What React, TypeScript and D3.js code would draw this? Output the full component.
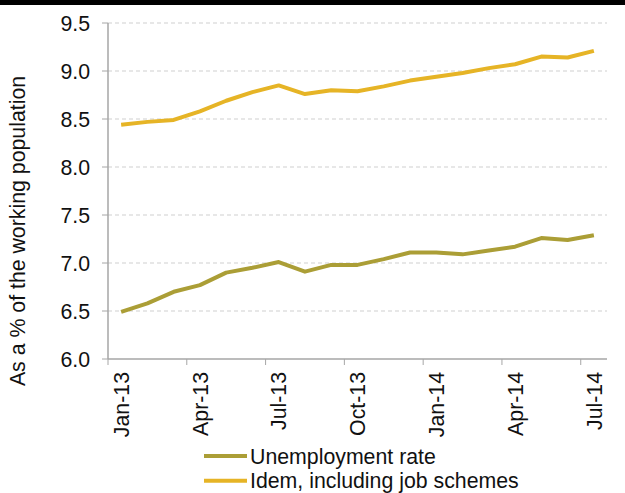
import React from "react";
import * as d3 from "d3";

const months = [
  "Jan-13", "Feb-13", "Mar-13", "Apr-13", "May-13", "Jun-13", "Jul-13", "Aug-13", "Sep-13", "Oct-13",
  "Nov-13", "Dec-13", "Jan-14", "Feb-14", "Mar-14", "Apr-14", "May-14", "Jun-14", "Jul-14",
];
const unemployment = [6.49, 6.58, 6.7, 6.77, 6.9, 6.95, 7.01, 6.91, 6.98, 6.98, 7.04, 7.11, 7.11, 7.09, 7.13, 7.17, 7.26, 7.24, 7.29];
const withSchemes = [8.44, 8.47, 8.49, 8.58, 8.69, 8.78, 8.85, 8.76, 8.8, 8.79, 8.84, 8.9, 8.94, 8.98, 9.03, 9.07, 9.15, 9.14, 9.21];
const yTicks = [6.0, 6.5, 7.0, 7.5, 8.0, 8.5, 9.0, 9.5];
const seriesNames = ["Unemployment rate", "Idem, including job schemes"];
const colors = ["#ab9e36", "#e6b426"];
const labelEvery = 3;

export default function App() {
  const W = 625, H = 493;
  const left = 108, right = 607, top = 23, bottom = 359;
  const fs = 21.3;
  const font = "Arial, 'Liberation Sans', sans-serif";
  const x = d3.scaleBand<string>().domain(months).range([left, right]).paddingInner(0).paddingOuter(0);
  const y = d3.scaleLinear().domain([6, 9.5]).range([bottom, top]);
  const cx = (m: string) => (x(m) as number) + x.bandwidth() / 2;
  const line = d3.line<number>().x((_, i) => cx(months[i])).y((v) => y(v));
  const series = [unemployment, withSchemes];
  const tickMonths = months.filter((_, i) => i % labelEvery === 0);

  return (
    <svg width={W} height={H} style={{ position: "absolute", left: 0, top: 0, background: "#fff" }} fontFamily={font}>
      <rect x={0} y={0} width={W} height={5} fill="#000" />
      {yTicks.map((t) => (
        <g key={t}>
          {t > 6 && (
            <line x1={left} x2={right} y1={y(t)} y2={y(t)} stroke="#cfcfcf" strokeWidth={1} strokeDasharray="4,3" />
          )}
          <line x1={left - 6} x2={left} y1={y(t)} y2={y(t)} stroke="#a6a6a6" strokeWidth={1} />
          <text x={left - 18} y={y(t)} dy="0.36em" textAnchor="end" fontSize={fs} fill="#111">
            {t.toFixed(1)}
          </text>
        </g>
      ))}
      <line x1={left} x2={left} y1={y(9.5)} y2={bottom} stroke="#a6a6a6" strokeWidth={1.5} />
      <line x1={left} x2={right} y1={bottom} y2={bottom} stroke="#a6a6a6" strokeWidth={1.5} />
      {tickMonths.map((m) => (
        <line key={m} x1={x(m) as number} x2={x(m) as number} y1={bottom} y2={bottom + 6} stroke="#a6a6a6" strokeWidth={1} />
      ))}
      {tickMonths.map((m) => (
        <text
          key={"l" + m}
          transform={`translate(${cx(m)},${bottom + 13}) rotate(-90)`}
          textAnchor="end"
          dy="0.36em"
          fontSize={fs}
          fill="#111"
        >
          {m}
        </text>
      ))}
      {series.map((s, i) => (
        <path key={i} d={line(s) || ""} fill="none" stroke={colors[i]} strokeWidth={4} strokeLinejoin="round" />
      ))}
      <text transform={`translate(25,231) rotate(-90)`} textAnchor="middle" fontSize={fs} fill="#111">
        As a % of the working population
      </text>
      {seriesNames.map((n, i) => (
        <g key={n} transform={`translate(204,${456 + i * 24.7})`}>
          <line x1={0} x2={43} y1={0} y2={0} stroke={colors[i]} strokeWidth={4} />
          <text x={46} y={0} dy="0.36em" fontSize={fs} fill="#111">
            {n}
          </text>
        </g>
      ))}
    </svg>
  );
}
